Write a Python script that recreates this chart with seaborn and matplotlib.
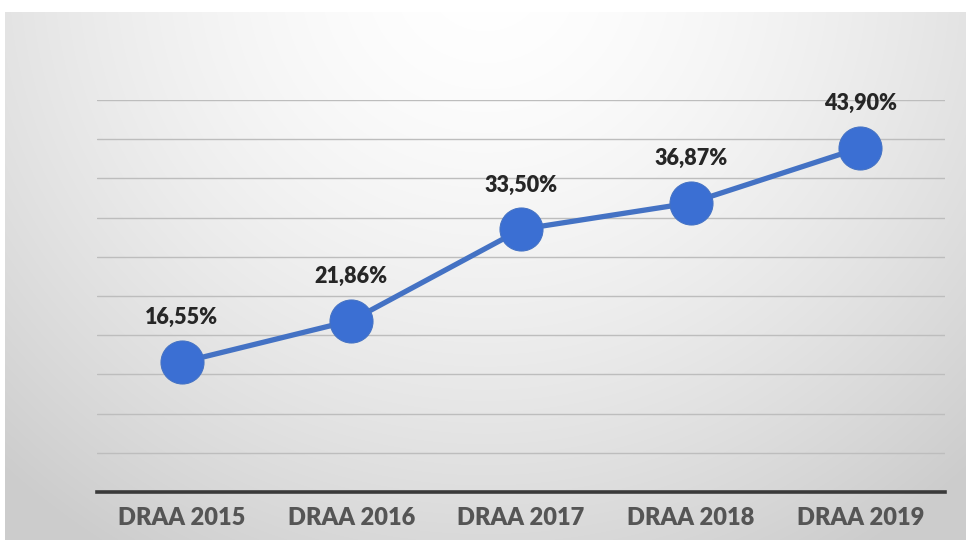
import numpy as np
import pandas as pd
import matplotlib
matplotlib.use("Agg")
import matplotlib.pyplot as plt
import seaborn as sns

categories = ["DRAA 2015", "DRAA 2016", "DRAA 2017", "DRAA 2018", "DRAA 2019"]
values = [16.55, 21.86, 33.50, 36.87, 43.90]
labels = ["16,55%", "21,86%", "33,50%", "36,87%", "43,90%"]

sns.set_theme(style="white")
plt.rcParams['font.family'] = ['Lato', 'DejaVu Sans']

fig = plt.figure(figsize=(9.66, 5.4), dpi=100)
fig.patch.set_facecolor("white")

# background radial gradient panel
bg = fig.add_axes([5/966, 0, 1 - 5/966, 1 - 12/540])
h, w = 528, 961
yy, xx = np.mgrid[0:h, 0:w]
cx, cy = 480, -40
d = np.sqrt(((xx - cx) / 640.0) ** 2 + ((yy - cy) / 620.0) ** 2)
g = np.clip(1.0 - 0.17 * d ** 1.6, 0.80, 1.0)
img = np.dstack([g, g, g])
bg.imshow(img, aspect="auto", extent=[0, 1, 0, 1], origin="upper")
bg.set_axis_off()

ax = fig.add_axes([97/966, 1 - 492/540, (945 - 97)/966, (492 - 100)/540])
ax.patch.set_alpha(0)
df = pd.DataFrame({"cat": categories, "val": values})
df["x"] = np.arange(len(categories))
sns.lineplot(data=df, x="x", y="val", ax=ax, color="#4472C4", lw=3.8,
             marker="o", markersize=31, markeredgecolor="#4472C4",
             markerfacecolor="#3b6fd3", zorder=5)
ax.set_xlim(-0.5, len(categories) - 0.5)
ax.set_ylim(0, 50)
ax.set_yticks(np.arange(0, 51, 5))
ax.yaxis.grid(True, color="#bdbdbd", lw=1.0)
ax.set_axisbelow(True)
ax.tick_params(axis="y", length=0, labelleft=False)
ax.set_xticks(df["x"])
ax.set_xticklabels(categories, fontsize=17, fontweight="heavy", color="#555555")
ax.tick_params(axis="x", length=0, pad=11)
for s in ["left", "right", "top"]:
    ax.spines[s].set_visible(False)
ax.spines["bottom"].set_color("#3a3a3a")
ax.spines["bottom"].set_linewidth(2.6)
ax.set_xlabel("")
ax.set_ylabel("")

for xi, v, lab in zip(df["x"], values, labels):
    ax.annotate(lab, (xi, v), xytext=(0, 32), textcoords="offset points",
                ha="center", va="center", fontsize=15.5, fontweight="heavy",
                color="#262626")

fig.savefig("out.png", dpi=100)
